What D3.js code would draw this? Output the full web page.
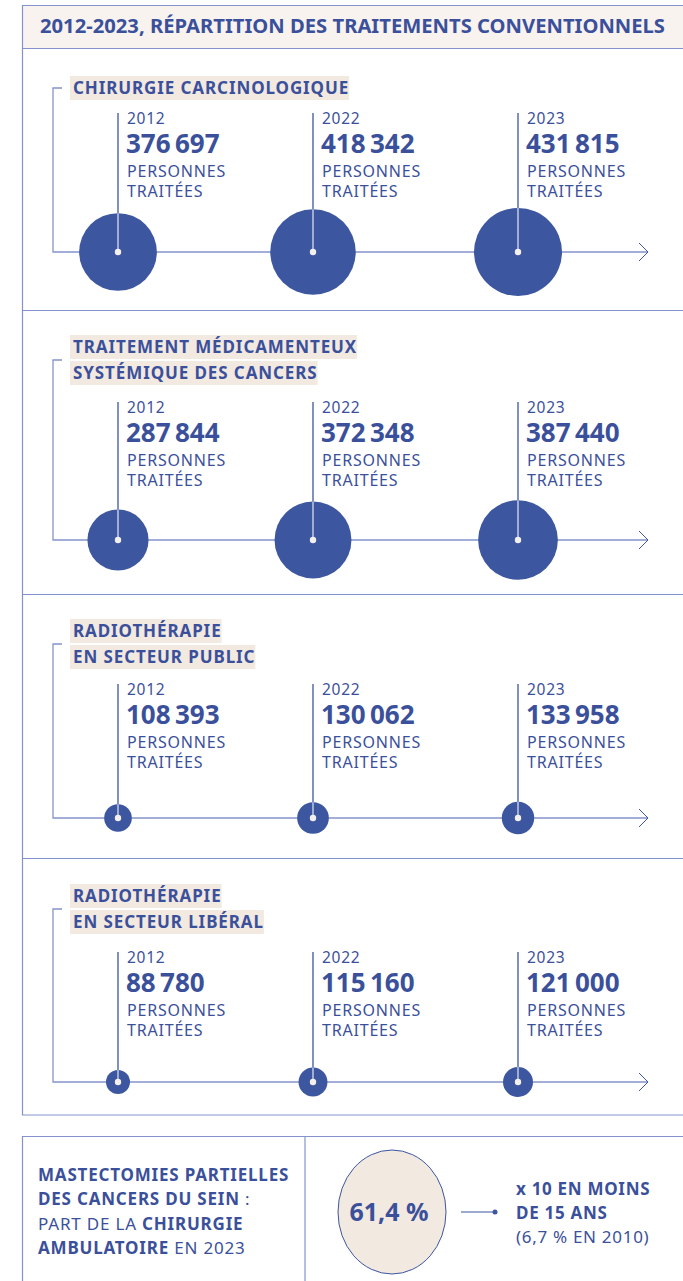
<!DOCTYPE html>
<html>
<head>
<meta charset="utf-8">
<script src="https://cdn.jsdelivr.net/npm/d3@7"></script>
<style>
  body { margin:0; background:#fff; }
  text { font-family:"Noto Sans", "Open Sans", sans-serif; }
</style>
</head>
<body>
<div id="canvas"></div>
<script>
// data
var years = ["2012", "2022", "2023"];
var panelTitles = [
  ["CHIRURGIE CARCINOLOGIQUE"],
  ["TRAITEMENT MÉDICAMENTEUX", "SYSTÉMIQUE DES CANCERS"],
  ["RADIOTHÉRAPIE", "EN SECTEUR PUBLIC"],
  ["RADIOTHÉRAPIE", "EN SECTEUR LIBÉRAL"]
];
var chirurgie = [376697, 418342, 431815];
var medicament = [287844, 372348, 387440];
var radioPublic = [108393, 130062, 133958];
var radioLiberal = [88780, 115160, 121000];
var series = [chirurgie, medicament, radioPublic, radioLiberal];
var mainTitle = "2012-2023, RÉPARTITION DES TRAITEMENTS CONVENTIONNELS";
var unitLines = ["PERSONNES", "TRAITÉES"];
var ambuPct = "61,4 %";

var W = 683, H = 1281;
var blue = "#3b509b", circ = "#3d56a0", lineC = "#8494cb", beige = "#f2e9e1";

var svg = d3.select("#canvas").append("svg")
  .attr("width", W).attr("height", H);

// layout of each panel (top, title y, bracket y, year baseline, axis y)
var panels = [
  {top:48,  t:88,  br:88,  yr:124, ax:252},
  {top:310, t:347, br:360, yr:413, ax:540},
  {top:594, t:631, br:644, yr:695, ax:818},
  {top:858, t:896, br:909, yr:963, ax:1082}
];
var bottomTop = 1115;

var x = d3.scaleOrdinal().domain(years).range([118, 313, 518]);
var allVals = d3.merge(series);
var r = d3.scaleLinear()
  .domain([d3.min(allVals), d3.max(allVals)])
  .range([12, 44]);
var fmt = function(v){ return d3.format(",")(v).replace(/,/g, "\u202F"); };

// outer frame + header
svg.append("rect").attr("x", 22).attr("y", 5).attr("width", W).attr("height", 43)
  .attr("fill", "#f8f3ef");
svg.append("path")
  .attr("d", "M" + W + ",5.5H22.5V" + bottomTop + "H" + W)
  .attr("fill", "none").attr("stroke", lineC).attr("stroke-width", 1.2);
svg.append("text").attr("x", 40).attr("y", 33)
  .attr("font-size", 19).attr("font-weight", 700).attr("fill", blue)
  .attr("textLength", 625).attr("lengthAdjust", "spacingAndGlyphs")
  .text(mainTitle);

panels.forEach(function(p, i){
  svg.append("line").attr("x1", 22).attr("x2", W).attr("y1", p.top + 0.5).attr("y2", p.top + 0.5)
    .attr("stroke", lineC).attr("stroke-width", 1.2);

  var g = svg.append("g");
  // title with highlight
  panelTitles[i].forEach(function(t, j){
    var ty = p.t + j * 26;
    var bg = g.append("rect").attr("fill", beige);
    var tx = g.append("text").attr("x", 73).attr("y", ty + 6)
      .attr("font-size", 17).attr("font-weight", 700).attr("fill", blue)
      .attr("letter-spacing", 0.9)
      .text(t);
    var bb = tx.node().getBBox();
    bg.attr("x", bb.x - 3).attr("y", ty - 12).attr("width", bb.width + 3).attr("height", 24);
  });

  // bracket + axis
  g.append("path")
    .attr("d", "M62," + p.br + "H53V" + p.ax + "H648")
    .attr("fill", "none").attr("stroke", lineC).attr("stroke-width", 1.3);
  g.append("path")
    .attr("d", "M639," + (p.ax - 9) + "L648," + p.ax + "L639," + (p.ax + 9))
    .attr("fill", "none").attr("stroke", circ).attr("stroke-width", 1);

  var vals = series[i];
  var cols = g.selectAll(".col").data(years).enter().append("g").attr("class", "col");

  cols.append("line")
    .attr("x1", function(d){ return x(d); }).attr("x2", function(d){ return x(d); })
    .attr("y1", p.yr - 11).attr("y2", p.ax)
    .attr("stroke", circ).attr("stroke-width", 1.3);
  cols.append("circle")
    .attr("cx", function(d){ return x(d); }).attr("cy", p.ax)
    .attr("r", function(d, k){ return r(vals[k]); })
    .attr("fill", circ);
  cols.append("line")
    .attr("x1", function(d){ return x(d); }).attr("x2", function(d){ return x(d); })
    .attr("y1", function(d, k){ return p.ax - r(vals[k]); }).attr("y2", p.ax)
    .attr("stroke", "#e8e8f2").attr("stroke-width", 1.2);
  cols.append("circle")
    .attr("cx", function(d){ return x(d); }).attr("cy", p.ax).attr("r", 3.2)
    .attr("fill", "#f4f0ee");

  cols.append("text").attr("x", function(d){ return x(d) + 9; }).attr("y", p.yr)
    .attr("font-size", 15.5).attr("fill", blue).attr("letter-spacing", 0.7)
    .text(function(d){ return d; });
  cols.append("text").attr("x", function(d){ return x(d) + 8; }).attr("y", p.yr + 29)
    .attr("font-size", 26).attr("font-weight", 700).attr("fill", blue)
    .attr("letter-spacing", -0.2)
    .text(function(d, k){ return fmt(vals[k]); });
  unitLines.forEach(function(u, j){
    cols.append("text").attr("x", function(d){ return x(d) + 9; }).attr("y", p.yr + 53 + j * 20)
      .attr("font-size", 16).attr("fill", blue).attr("letter-spacing", 0.8).text(u);
  });
});

// bottom box
var by = 1136;
svg.append("path").attr("d", "M" + W + "," + (by + 0.5) + "H22.5V" + H)
  .attr("fill", "none").attr("stroke", lineC).attr("stroke-width", 1.2);
svg.append("line").attr("x1", 305).attr("x2", 305).attr("y1", by).attr("y2", H)
  .attr("stroke", lineC).attr("stroke-width", 1.2);

var leftLines = [
  [["MASTECTOMIES PARTIELLES", 700]],
  [["DES CANCERS DU SEIN", 700], [" :", 400]],
  [["PART DE LA ", 400], ["CHIRURGIE", 700]],
  [["AMBULATOIRE", 700], [" EN 2023", 400]]
];
leftLines.forEach(function(parts, j){
  var t = svg.append("text").attr("x", 38).attr("y", by + 45 + j * 24.3)
    .attr("font-size", 17).attr("fill", blue).attr("letter-spacing", 0.8);
  parts.forEach(function(pt){
    t.append("tspan").attr("font-weight", pt[1]).text(pt[0]);
  });
});

svg.append("ellipse").attr("cx", 392).attr("cy", 1212).attr("rx", 54).attr("ry", 62)
  .attr("fill", beige).attr("stroke", circ).attr("stroke-width", 1);
svg.append("text").attr("x", 389).attr("y", 1221).attr("text-anchor", "middle")
  .attr("font-size", 25).attr("font-weight", 700).attr("fill", blue)
  .attr("letter-spacing", 0).text(ambuPct);
svg.append("line").attr("x1", 461).attr("x2", 495).attr("y1", 1212).attr("y2", 1212)
  .attr("stroke", circ).attr("stroke-width", 1.2);
svg.append("circle").attr("cx", 495).attr("cy", 1212).attr("r", 2.5).attr("fill", circ);

var rightLines = [["x 10 EN MOINS", 700], ["DE 15 ANS", 700], ["(6,7 % EN 2010)", 400]];
rightLines.forEach(function(l, j){
  svg.append("text").attr("x", 516).attr("y", by + 59 + j * 24)
    .attr("font-size", 17).attr("font-weight", l[1]).attr("fill", blue)
    .attr("letter-spacing", 0.7).text(l[0]);
});
</script>
</body>
</html>
